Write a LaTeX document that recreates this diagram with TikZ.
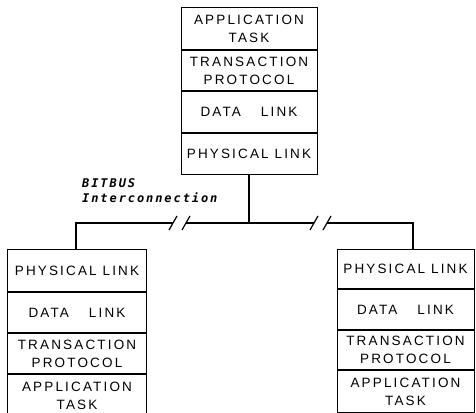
\documentclass[tikz,border=0pt]{standalone}
\usepackage{fontspec}
\usetikzlibrary{calc}
\newfontfamily\lay[LetterSpace=16]{Liberation Sans}
\newfontfamily\lab[LetterSpace=16]{DejaVu Sans Mono}
\newcommand{\wgap}{\hspace{20pt}}
\begin{document}
\begin{tikzpicture}[x=1pt,y=-1pt,
  layer/.style={draw, line width=1pt, inner sep=0pt, align=center, anchor=north,
    font=\lay\fontsize{13.5}{18}\selectfont},
  bus/.style={line width=2pt},
  brk/.style={line width=1.2pt},
  lbl/.style={font=\lab\bfseries\itshape\fontsize{12}{14}\selectfont, anchor=west, inner sep=0pt}]
\clip (0,0) rectangle (476,412);
% top stack
\node[layer, minimum width=136pt, minimum height=42pt] (tA) at (249,7) {APPLICATION\\TASK};
\node[layer, minimum width=136pt, minimum height=40pt] (tT) at (tA.south) {TRANSACTION\\PROTOCOL};
\node[layer, minimum width=136pt, minimum height=41pt] (tD) at (tT.south) {DATA\wgap LINK};
\node[layer, minimum width=136pt, minimum height=41pt] (tP) at (tD.south) {PHYSICAL LINK};
% left stack
\node[layer, minimum width=139pt, minimum height=42pt] (lP) at (77,249) {PHYSICAL LINK};
\node[layer, minimum width=139pt, minimum height=40pt] (lD) at (lP.south) {DATA\wgap LINK};
\node[layer, minimum width=139pt, minimum height=40pt] (lT) at (lD.south) {TRANSACTION\\PROTOCOL};
\node[layer, minimum width=139pt, minimum height=43pt] (lA) at (lT.south) {APPLICATION\\TASK};
% right stack
\node[layer, minimum width=137pt, minimum height=39pt] (rP) at (405.5,249) {PHYSICAL LINK};
\node[layer, minimum width=137pt, minimum height=40pt] (rD) at (rP.south) {DATA\wgap LINK};
\node[layer, minimum width=137pt, minimum height=39pt] (rT) at (rD.south) {TRANSACTION\\PROTOCOL};
\node[layer, minimum width=137pt, minimum height=42pt] (rA) at (rT.south) {APPLICATION\\TASK};
% bus
\coordinate (jT) at (tP.south |- 0,223);
\coordinate (jL) at (76,223);
\coordinate (jR) at (413,223);
\coordinate (b1a) at (173,223);
\coordinate (b1b) at (186,223);
\coordinate (b2a) at (314,223);
\coordinate (b2b) at (327,223);
\draw[bus] (tP.south) -- (jT);
\draw[bus] (lP.north -| jL) -- (jL) -- (b1a);
\draw[bus] (b1b) -- (b2a);
\draw[bus] (b2b) -- (jR) -- (rP.north -| jR);
\draw[brk] ($(b1a)+(-4,7)$) -- ($(b1a)+(4,-7)$);
\draw[brk] ($(b1b)+(-4,7)$) -- ($(b1b)+(4,-7)$);
\draw[brk] ($(b2a)+(-4,7)$) -- ($(b2a)+(4,-7)$);
\draw[brk] ($(b2b)+(-4,7)$) -- ($(b2b)+(4,-7)$);
% labels
\node[lbl] (l1) at (82,183) {BITBUS};
\node[lbl] (l2) at (82,198) {Interconnection};
\end{tikzpicture}
\end{document}
